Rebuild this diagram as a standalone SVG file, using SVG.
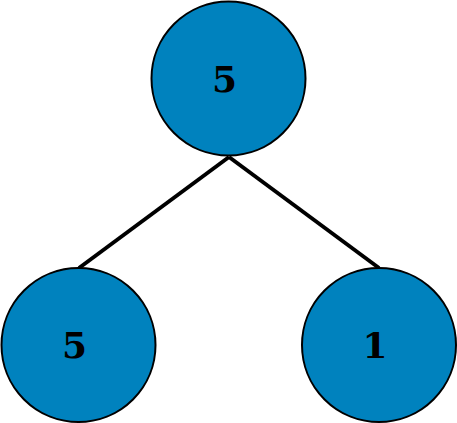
<svg xmlns="http://www.w3.org/2000/svg" width="457" height="423" viewBox="0 0 457 423">
<style>
.node{fill:#0082BE;stroke:#000;stroke-width:2}
.lbl{font-family:"DejaVu Serif",serif;font-weight:bold;font-size:36px;fill:#000;text-anchor:middle}
.edge{stroke:#000;stroke-width:4;fill:none}
</style>
<rect width="457" height="423" fill="#fff"/>
<g id="edges">
<line class="edge" x1="229" y1="157" x2="79" y2="268"/>
<line class="edge" x1="229" y1="157" x2="379" y2="268"/>
</g>
<g id="n1"><circle class="node" cx="228.5" cy="78.5" r="77"/><text class="lbl" x="224.5" y="92">5</text></g>
<g id="n2"><circle class="node" cx="78.5" cy="345" r="77"/><text class="lbl" x="74.5" y="358">5</text></g>
<g id="n3"><circle class="node" cx="379" cy="345" r="77"/><text class="lbl" x="375" y="358">1</text></g>
</svg>
